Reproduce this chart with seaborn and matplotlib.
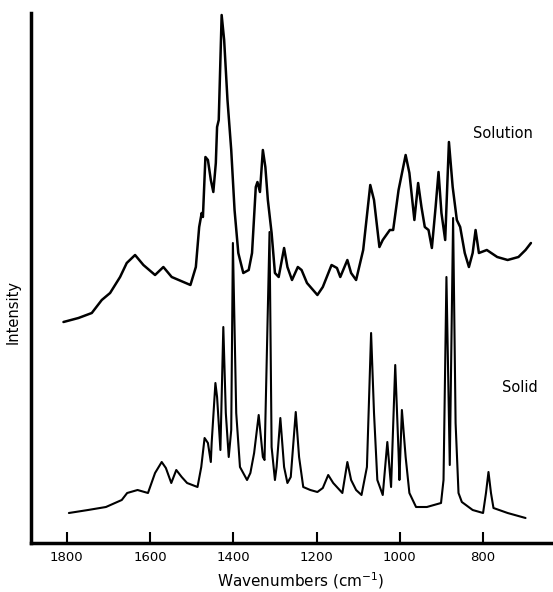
import matplotlib
matplotlib.use("Agg")
import matplotlib.pyplot as plt
import seaborn as sns
import pandas as pd

# Solution spectrum (wavenumber cm^-1, intensity in arbitrary units)
solution_wn = [1808, 1772, 1740, 1716, 1696, 1672, 1656, 1636, 1616, 1588, 1568, 1548, 1503,
               1490, 1482, 1476, 1473, 1467, 1461, 1454, 1448, 1442, 1439, 1435, 1428, 1422,
               1414, 1405, 1397, 1388, 1376, 1363, 1355, 1346, 1342, 1336, 1329, 1323, 1317,
               1308, 1300, 1291, 1278, 1270, 1259, 1245, 1236, 1223, 1198, 1185, 1164, 1151,
               1143, 1126, 1117, 1105, 1088, 1071, 1062, 1049, 1041, 1024, 1016, 1003, 986,
               977, 965, 956, 948, 940, 931, 923, 914, 907, 900, 891, 882, 873, 863, 855,
               844, 834, 825, 818, 810, 791, 766, 741, 715, 698, 685]
solution_int = [221, 225, 230, 243, 250, 266, 280, 288, 278, 268, 276, 266, 258,
                276, 316, 330, 326, 386, 383, 363, 351, 380, 416, 423, 528, 503,
                443, 393, 333, 290, 270, 273, 290, 356, 361, 351, 393, 376, 343,
                310, 270, 266, 295, 276, 263, 276, 273, 260, 248, 256, 278, 275,
                266, 283, 270, 263, 293, 358, 343, 296, 303, 313, 313, 353, 388,
                370, 323, 360, 336, 316, 313, 295, 336, 371, 330, 303, 401, 356, 323, 316,
                290, 276, 290, 313, 290, 293, 286, 283, 286, 293, 300]

# Solid spectrum
solid_wn = [1795, 1749, 1706, 1668, 1655, 1630, 1605, 1588, 1572, 1562, 1549, 1537, 1524,
            1511, 1486, 1477, 1469, 1461, 1454, 1452, 1443, 1439, 1431, 1424, 1418, 1411,
            1405, 1401, 1393, 1384, 1367, 1359, 1350, 1339, 1329, 1325, 1313, 1308, 1300,
            1296, 1287, 1278, 1270, 1262, 1250, 1242, 1232, 1215, 1198, 1185, 1172, 1160,
            1138, 1126, 1117, 1105, 1092, 1079, 1069, 1062, 1054, 1041, 1030, 1021, 1011,
            1003, 1001, 995, 986, 977, 961, 935, 901, 895, 888, 880, 872, 866, 859, 851,
            825, 800, 793, 787, 781, 775, 741, 698]
solid_int = [30, 33, 36, 43, 50, 53, 50, 70, 81, 75, 60, 73, 66,
             60, 56, 76, 105, 100, 81, 100, 160, 146, 93, 216, 130, 86,
             113, 300, 130, 76, 63, 70, 90, 128, 86, 83, 311, 96, 63,
             76, 125, 76, 60, 66, 131, 86, 56, 53, 51, 55, 68, 60,
             50, 81, 63, 53, 48, 76, 210, 130, 63, 48, 101, 56, 178,
             90, 63, 133, 86, 50, 36, 36, 40, 63, 266, 78, 325, 120, 50, 41,
             33, 30, 50, 71, 50, 35, 30, 25]

xticks = [1800, 1600, 1400, 1200, 1000, 800]

df_sol = pd.DataFrame({"wn": solution_wn, "I": solution_int})
df_sld = pd.DataFrame({"wn": solid_wn, "I": solid_int})

sns.set_style("white")
plt.rcParams["font.family"] = ["DejaVu Sans"]
plt.rcParams["text.color"] = "black"
plt.rcParams["axes.labelcolor"] = "black"
plt.rcParams["xtick.color"] = "black"

fig = plt.figure(figsize=(5.53, 5.92), dpi=100)
ax = fig.add_axes([31 / 553, 49 / 592, 522 / 553, 530 / 592])

sns.lineplot(data=df_sol, x="wn", y="I", sort=False, estimator=None, color="black",
             linewidth=1.8, ax=ax)
sns.lineplot(data=df_sld, x="wn", y="I", sort=False, estimator=None, color="black",
             linewidth=1.5, ax=ax)

ax.set_xlim(1886, 632)
ax.set_ylim(0, 530)
ax.set_xticks(xticks)
ax.set_xticklabels([str(t) for t in xticks], fontsize=9.5, color="black")
ax.set_yticks([])
ax.tick_params(axis="x", direction="in", length=8, width=1.5, pad=6, bottom=True,
               colors="black")

for s in ["top", "right"]:
    ax.spines[s].set_visible(False)
for s in ["left", "bottom"]:
    ax.spines[s].set_linewidth(2.5)
    ax.spines[s].set_color("black")

ax.set_xlabel("Wavenumbers (cm$^{-1}$)", fontsize=11, color="black")
ax.xaxis.set_label_coords(0.517, -0.052)
ax.set_ylabel("Intensity", fontsize=10.5, color="black")
ax.yaxis.set_label_coords(-0.020, 0.436)

ax.text(752, 410, "Solution", fontsize=10.5, ha="center", va="center", color="black")
ax.text(711, 155, "Solid", fontsize=10.5, ha="center", va="center", color="black")

fig.savefig("out.png", dpi=100)
